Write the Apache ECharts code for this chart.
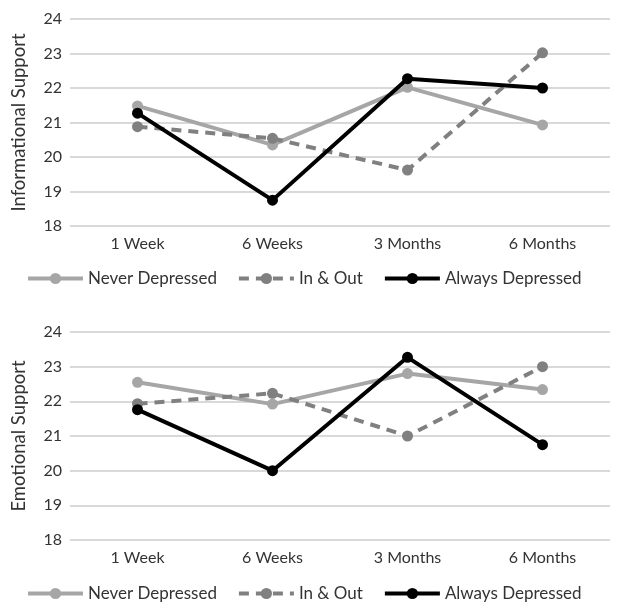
<!DOCTYPE html>
<html><head><meta charset="utf-8">
<script src="https://cdn.jsdelivr.net/npm/echarts@6/dist/echarts.min.js"></script>
<style>html,body{margin:0;padding:0;background:#fff}#c{width:619px;height:611px}</style>
</head><body><div id="c"></div>
<script>
const categories = ['1 Week', '6 Weeks', '3 Months', '6 Months'];
const seriesNames = ['Never Depressed', 'In & Out', 'Always Depressed'];
const infoNever = [21.48, 20.35, 22.02, 20.93];
const infoInOut = [20.88, 20.54, 19.62, 23.02];
const infoAlways = [21.27, 18.75, 22.27, 22.0];
const emoNever = [22.55, 21.92, 22.80, 22.34];
const emoInOut = [21.93, 22.23, 21.0, 23.0];
const emoAlways = [21.76, 20.0, 23.27, 20.75];
const yTicks = [18, 19, 20, 21, 22, 23, 24];

const font = 'Lato, "Open Sans", sans-serif';
const txt = '#333333';
const styles = [
  { color: '#a6a6a6', type: 'solid' },
  { color: '#808080', type: [10, 7] },
  { color: '#000000', type: 'solid' }
];
function mk(name, data, axis) {
  const i = seriesNames.indexOf(name);
  const s = styles[i];
  return {
    name, type: 'line', data, xAxisIndex: axis, yAxisIndex: axis,
    symbol: 'circle', symbolSize: 11, z: 3 + i,
    itemStyle: { color: s.color },
    lineStyle: { color: s.color, width: 4, type: s.type },
    animation: false
  };
}
function xAx(gi) {
  return {
    type: 'category', gridIndex: gi, data: categories, boundaryGap: true,
    axisLine: { show: false }, axisTick: { show: false },
    axisLabel: { color: txt, fontSize: 16, fontFamily: font, margin: 10 }
  };
}
function yAx(gi, name) {
  return {
    type: 'value', gridIndex: gi, min: yTicks[0], max: yTicks[yTicks.length - 1], interval: 1,
    name, nameLocation: 'middle', nameGap: 41,
    nameTextStyle: { color: txt, fontSize: 18.5, fontFamily: font },
    axisLine: { show: false }, axisTick: { show: false },
    axisLabel: { color: txt, fontSize: 16, fontFamily: font, margin: 8 },
    splitLine: { lineStyle: { color: '#d9d9d9', width: 2 } }
  };
}
function leg(top) {
  return {
    data: seriesNames, top, left: 21, itemWidth: 55, itemHeight: 14, itemGap: 20,
    lineStyle: { width: 4 },
    textStyle: { color: txt, fontSize: 17, fontFamily: font }
  };
}
const chart = echarts.init(document.getElementById('c'));
chart.setOption({
  animation: false,
  backgroundColor: '#fff',
  grid: [
    { left: 70, right: 9, top: 19, height: 207 },
    { left: 70, right: 9, top: 332, height: 208 }
  ],
  xAxis: [xAx(0), xAx(1)],
  yAxis: [yAx(0, 'Informational Support'), yAx(1, 'Emotional Support')],
  legend: [leg(265), leg(580)],
  series: [
    mk('Never Depressed', infoNever, 0),
    mk('In & Out', infoInOut, 0),
    mk('Always Depressed', infoAlways, 0),
    mk('Never Depressed', emoNever, 1),
    mk('In & Out', emoInOut, 1),
    mk('Always Depressed', emoAlways, 1)
  ]
});
</script></body></html>
